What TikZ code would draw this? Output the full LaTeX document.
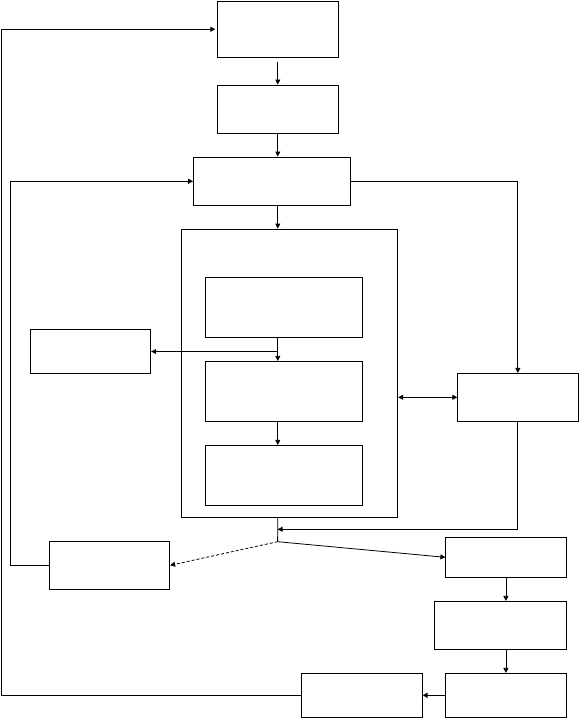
\documentclass[tikz,border=0pt]{standalone}
\usetikzlibrary{arrows.meta,positioning,calc}

\begin{document}
\begin{tikzpicture}[
    x=1pt, y=-1pt,
    blk/.style={draw, line width=0.8pt, minimum width=#1, inner sep=0pt},
    arr/.style={-{Triangle[length=5pt,width=5pt]}, line width=0.8pt},
    arrtwo/.style={{Triangle[length=5pt,width=5pt]}-{Triangle[length=5pt,width=5pt]}, line width=0.8pt},
    ln/.style={line width=0.8pt}
]
\useasboundingbox (0,0) rectangle (579,719);
% main column
\node[blk=120.3pt, minimum height=56pt] (top) at (277.8,29.3) {};
\node[blk=120.3pt, minimum height=48.7pt] (sec) at (277.8,109.3) {};
\node[blk=156.6pt, minimum height=48.7pt] (dist) at (271.7,181.3) {};
\node[blk=216.3pt, minimum height=288.3pt] (outer) at (289.65,373.15) {};
\node[blk=156.5pt, minimum height=60pt] (inone) at (283.75,307.3) {};
\node[blk=156.5pt, minimum height=60pt] (intwo) at (283.75,391.3) {};
\node[blk=156.5pt, minimum height=60pt] (inthree) at (283.75,475.3) {};
% side boxes
\node[blk=120.5pt, minimum height=44.4pt] (lb) at (90.55,351.5) {};
\node[blk=120.3pt, minimum height=48pt] (rt) at (517.85,397.3) {};
\node[blk=120.2pt, minimum height=48pt] (ltwo) at (109.6,565.3) {};
\node[blk=120.2pt, minimum height=40pt] (rtwo) at (505.9,557.3) {};
\node[blk=132pt, minimum height=48pt] (rthree) at (500,625.3) {};
\node[blk=120.2pt, minimum height=44pt] (rfour) at (505.9,695.3) {};
\node[blk=120.5pt, minimum height=44pt] (bl) at (361.95,695.3) {};

\coordinate (merge) at (277.6,529.3);
\coordinate (fork) at (277.6,541.7);

\draw[arr, shorten <=4pt] (top) -- (sec);
\draw[arr] (sec) -- (sec |- dist.north);
\draw[arr] (sec |- dist.south) -- (sec |- outer.north);
\draw[arr] (sec |- inone.south) -- (sec |- intwo.north);
\draw[arr] (sec |- intwo.south) -- (sec |- inthree.north);
\draw[arr] (sec |- lb.east) -- (lb.east);
\draw[arr] (dist.east) -| (rt.north);
\draw[arrtwo] (outer.east |- rt.west) -- (rt.west);
\draw[arr] (rt.south) |- (merge);
\draw[ln] (sec |- outer.south) -- (fork);
\draw[arr, densely dashed] (fork) -- (ltwo.east);
\draw[arr] (fork) -- (rtwo.west);
\draw[arr] (ltwo.west) -- ++(-39.1,0) |- (dist.west);
\draw[arr] (rtwo.south) -- (rtwo.south |- rthree.north);
\draw[arr] (rfour.north |- rthree.south) -- (rfour.north);
\draw[arr, line width=1.6pt] (rfour.west) -- (bl.east);
\draw[arr, shorten >=2pt] (bl.west) -- ++(-299.9,0) |- (top.west);
\end{tikzpicture}
\end{document}
